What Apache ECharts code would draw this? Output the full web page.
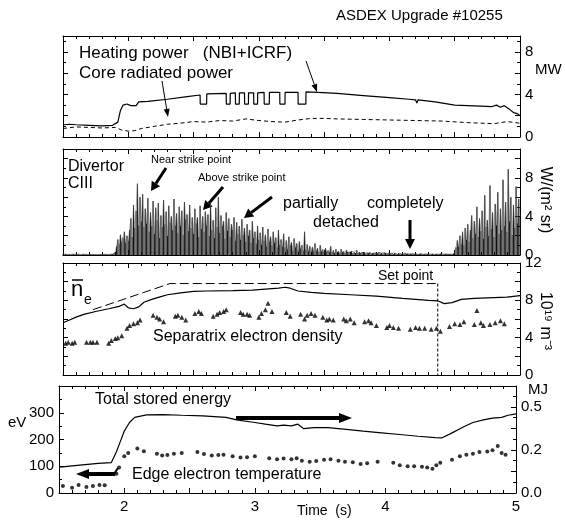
<!DOCTYPE html>
<html>
<head>
<meta charset="utf-8">
<title>ASDEX Upgrade #10255</title>
<script src="https://cdn.jsdelivr.net/npm/echarts@6/dist/echarts.min.js"></script>
<style>
  html, body { margin: 0; padding: 0; background: #fff; }
  #chart { width: 565px; height: 522px; }
</style>
</head>
<body>
<div id="chart"></div>
<script>
// ---- time axis (s) ----
const timeMin = 1.5;
const timeMax = 5;
const timeTickLabels = [2, 3, 4, 5];

// ---- panel 1: heating power / core radiated power (MW) ----
const heatingTime = [1.50, 1.55, 1.60, 1.70, 1.80, 1.88, 1.92, 1.94, 1.96, 1.99, 2.02, 2.06, 2.08, 2.15, 2.30, 2.45,
  2.55, 2.551, 2.60, 2.601, 2.75, 2.751, 2.78, 2.781, 2.82, 2.821, 2.85, 2.851, 2.89, 2.891, 2.92, 2.921,
  2.96, 2.961, 2.99, 2.991, 3.04, 3.041, 3.08, 3.081, 3.16, 3.161, 3.20, 3.201, 3.30, 3.301, 3.36, 3.361,
  3.45, 3.60, 3.80, 4.00, 4.15, 4.20, 4.21, 4.22, 4.35, 4.50, 4.60, 4.70, 4.78, 4.82, 4.85, 4.88, 4.92, 4.95, 4.98, 5.00];
const heatingMW = [1.15, 1.2, 1.15, 1.1, 1.05, 1.1, 1.4, 2.5, 3.0, 3.1, 2.95, 2.95, 3.3, 3.35, 3.55, 3.8,
  3.95, 3.1, 3.1, 4.05, 4.1, 3.1, 3.1, 4.1, 4.15, 3.1, 3.1, 4.15, 4.15, 3.1, 3.1, 4.15,
  4.15, 3.1, 3.1, 4.15, 4.2, 3.1, 3.1, 4.2, 4.2, 3.1, 3.1, 4.2, 4.2, 3.1, 3.1, 4.25,
  4.2, 4.1, 3.9, 3.7, 3.55, 3.5, 3.2, 3.5, 3.3, 3.0, 2.95, 2.9, 2.85, 3.0, 2.8, 2.95, 2.6, 2.3, 2.2, 2.0];
const radiatedTime = [1.50, 1.60, 1.70, 1.80, 1.90, 1.95, 2.00, 2.05, 2.10, 2.20, 2.30, 2.40, 2.50, 2.60, 2.70, 2.80,
  2.90, 3.00, 3.10, 3.20, 3.30, 3.40, 3.50, 3.60, 3.80, 4.00, 4.20, 4.40, 4.60, 4.70, 4.80, 4.90, 5.00];
const radiatedMW = [0.8, 0.95, 0.9, 0.85, 0.9, 0.65, 0.55, 0.6, 0.8, 1.0, 1.2, 1.3, 1.45, 1.4, 1.55, 1.5,
  1.7, 1.55, 1.45, 1.4, 1.6, 1.75, 1.75, 1.7, 1.65, 1.6, 1.55, 1.5, 1.35, 1.3, 1.25, 1.45, 1.3];
const mwTicks = [0, 4, 8];

// ---- panel 2: divertor CIII, one sample every 10 ms from 1.50 s ----
const ciiiStart = 1.5;
const ciiiStep = 0.01;
const ciiiValues = [
  0.1, 0.05, 0.1, 0.08, 0.05, 0.1, 0.06, 0.08, 0.1, 0.05,
  0.08, 0.05, 0.1, 0.06, 0.05, 0.08, 0.1, 0.05, 0.07, 0.06,
  0.05, 0.08, 0.06, 0.1, 0.05, 0.07, 0.06, 0.08, 0.05, 0.1,
  0.06, 0.05, 0.08, 0.1, 0.06, 0.05, 0.08, 0.1, 0.1, 0.2,
  0.3, 0.9, 1.6, 1.2, 2.1, 1.4, 1.8, 2.4, 1.3, 2.0,
  1.5, 2.6, 3.8, 1.9, 5.2, 2.8, 4.6, 7.4, 3.1, 6.0,
  3.5, 6.3, 2.9, 4.8, 3.3, 5.9, 2.4, 4.4, 3.0, 5.6,
  2.2, 4.9, 3.6, 5.4, 1.8, 4.1, 2.9, 5.7, 3.2, 4.5,
  2.0, 5.1, 3.4, 4.0, 2.6, 5.8, 3.1, 4.3, 2.3, 5.0,
  3.0, 4.6, 2.1, 5.5, 3.7, 4.2, 2.5, 5.2, 2.8, 3.9,
  2.2, 4.8, 3.3, 3.9, 1.9, 5.1, 2.7, 4.0, 2.4, 4.5,
  3.1, 4.2, 2.0, 5.4, 2.6, 3.6, 1.8, 4.9, 2.9, 6.0,
  2.3, 4.1, 3.0, 3.5, 1.7, 4.4, 2.5, 3.8, 1.9, 3.2,
  2.6, 3.9, 1.5, 3.4, 2.2, 3.0, 1.6, 3.7, 2.1, 2.8,
  1.4, 3.2, 2.0, 2.6, 1.3, 3.5, 1.8, 2.4, 1.2, 3.0,
  1.6, 2.3, 1.1, 2.9, 1.5, 2.1, 0.9, 2.7, 1.4, 1.9,
  1.0, 2.4, 1.3, 1.8, 0.8, 2.6, 1.1, 1.6, 0.9, 2.2,
  0.8, 1.5, 0.6, 1.9, 1.0, 1.3, 0.5, 1.7, 0.8, 1.2,
  0.6, 1.4, 0.7, 1.0, 0.5, 2.4, 0.6, 1.1, 0.4, 0.9,
  0.5, 0.8, 0.4, 1.2, 0.5, 0.7, 0.3, 1.0, 0.4, 0.6,
  0.3, 0.7, 0.4, 0.5, 0.3, 0.9, 0.3, 0.5, 0.2, 0.6,
  0.3, 0.4, 0.2, 0.6, 0.3, 0.4, 0.2, 0.5, 0.3, 0.3,
  0.2, 0.4, 0.2, 0.3, 0.2, 0.5, 0.2, 0.3, 0.2, 0.3,
  0.2, 0.3, 0.15, 0.25, 0.2, 0.3, 0.15, 0.2, 0.2, 0.25,
  0.15, 0.2, 0.3, 0.15, 0.2, 0.15, 0.25, 0.2, 0.15, 0.2,
  0.2, 0.15, 0.2, 0.1, 0.2, 0.15, 0.1, 0.2, 0.15, 0.1,
  0.15, 0.1, 0.2, 0.1, 0.15, 0.1, 0.12, 0.1, 0.15, 0.1,
  0.1, 0.12, 0.08, 0.1, 0.15, 0.1, 0.08, 0.1, 0.12, 0.1,
  0.1, 0.08, 0.1, 0.12, 0.08, 0.1, 0.1, 0.08, 0.1, 0.12,
  0.1, 0.08, 0.1, 0.1, 0.12, 0.1, 0.08, 0.1, 0.1, 0.12,
  0.2, 0.8, 1.5, 0.9, 2.0, 1.2, 2.4, 1.0, 2.8, 1.6,
  3.2, 1.4, 2.6, 4.1, 1.8, 3.5, 2.2, 5.0, 1.9, 3.8,
  2.5, 4.6, 1.7, 6.2, 2.9, 3.6, 2.0, 7.2, 2.7, 4.4,
  1.9, 5.3, 3.1, 6.5, 2.2, 4.8, 2.6, 7.8, 3.0, 5.5,
  2.4, 8.9, 3.5, 6.0, 2.1, 5.2, 2.8, 7.1, 3.3, 5.8,
  4.0
];
const ciiiTicks = [0, 4, 8];

// ---- panel 3: line averaged density, set point, separatrix density (1e19 m^-3) ----
const densityTime = [1.50, 1.55, 1.60, 1.66, 1.75, 1.85, 1.93, 1.97, 2.00, 2.04, 2.08, 2.12, 2.18, 2.25, 2.30, 2.40,
  2.50, 2.60, 2.80, 2.95, 3.05, 3.15, 3.20, 3.24, 3.30, 3.40, 3.50, 3.70, 3.90, 4.10, 4.30, 4.37,
  4.42, 4.48, 4.55, 4.65, 4.80, 4.90, 5.00];
const densityValues = [5.6, 5.9, 6.2, 6.5, 6.8, 7.1, 7.35, 7.6, 7.2, 7.1, 7.3, 7.8, 8.1, 8.4, 8.6, 8.8,
  8.95, 9.0, 9.05, 9.1, 9.2, 9.3, 9.4, 9.3, 9.0, 8.85, 8.75, 8.6, 8.45, 8.2, 8.0, 7.95,
  7.65, 7.75, 8.1, 8.2, 8.3, 8.35, 8.5];
const setpointTime = [1.73, 2.32, 4.37];
const setpointValues = [7.0, 9.8, 9.8];
const setpointDropTime = [4.37, 4.37];
const setpointDropValues = [9.8, 0];
const sepTime = [1.52, 1.54, 1.57, 1.59, 1.68, 1.71, 1.73, 1.76, 1.85, 1.87, 1.90, 1.92, 1.95,
  1.99, 2.01, 2.04, 2.07, 2.09, 2.19, 2.22, 2.24, 2.27, 2.36, 2.38, 2.41, 2.44, 2.51, 2.54, 2.56,
  2.65, 2.68, 2.70, 2.73, 2.75, 2.86, 2.88, 2.91, 2.93, 3.00, 3.02, 3.05, 3.07, 3.10, 3.21, 3.24,
  3.32, 3.35, 3.37, 3.40, 3.43, 3.49, 3.52, 3.54, 3.57, 3.65, 3.67, 3.70, 3.73, 3.81, 3.84, 3.86, 3.90,
  3.98, 4.00, 4.03, 4.07, 4.16, 4.20, 4.23, 4.27, 4.32, 4.36, 4.39, 4.46, 4.50, 4.54, 4.57,
  4.65, 4.67, 4.70, 4.72, 4.77, 4.81, 4.85, 4.88];
const sepDensity = [3.4, 3.5, 3.4, 3.5, 3.5, 3.5, 3.5, 3.5, 3.4, 3.7, 3.9, 4.0, 4.2,
  5.0, 5.3, 5.5, 5.6, 5.9, 6.4, 6.2, 6.0, 5.7, 6.3, 6.4, 6.2, 5.9, 6.6, 6.8, 6.6,
  6.3, 6.5, 6.7, 6.8, 7.0, 6.7, 6.5, 6.5, 6.4, 6.2, 6.6, 7.0, 7.7, 6.8, 6.7, 6.3,
  6.5, 6.0, 6.4, 6.6, 6.4, 6.2, 5.9, 6.0, 5.9, 6.0, 5.8, 6.0, 5.6, 5.7, 5.8, 5.6, 5.3,
  5.1, 5.3, 5.1, 5.0, 4.9, 5.1, 5.0, 5.0, 4.9, 5.0, 4.7, 5.2, 5.5, 5.4, 5.7,
  5.4, 6.9, 5.6, 5.3, 5.4, 5.6, 5.8, 5.5];
const densityTicks = [0, 4, 8, 12];

// ---- panel 4: total stored energy (MJ), edge electron temperature (eV) ----
const energyTime = [1.51, 1.60, 1.70, 1.80, 1.90, 1.94, 1.97, 2.00, 2.04, 2.08, 2.17, 2.30, 2.44, 2.60, 2.78, 2.86,
  3.00, 3.08, 3.13, 3.17, 3.22, 3.28, 3.33, 3.375, 3.45, 3.56, 3.70, 3.83, 3.97, 4.11, 4.25, 4.38, 4.43,
  4.50, 4.60, 4.67, 4.75, 4.82, 4.89, 4.94, 5.00];
const energyMJ = [0.15, 0.158, 0.165, 0.172, 0.176, 0.24, 0.30, 0.36, 0.41, 0.44, 0.454, 0.456, 0.452, 0.448, 0.44, 0.425,
  0.41, 0.40, 0.395, 0.39, 0.395, 0.39, 0.40, 0.374, 0.38, 0.38, 0.37, 0.36, 0.35, 0.34, 0.33, 0.322, 0.32,
  0.345, 0.385, 0.41, 0.425, 0.435, 0.44, 0.452, 0.46];
const teTime = [1.53, 1.60, 1.65, 1.71, 1.76, 1.81, 1.85, 1.94, 1.96, 2.00, 2.03, 2.10, 2.15,
  2.25, 2.29, 2.33, 2.38, 2.44, 2.56, 2.61, 2.67, 2.72, 2.76, 2.83, 2.89, 2.94, 3.00,
  3.11, 3.17, 3.22, 3.28, 3.32, 3.36, 3.42, 3.47, 3.53, 3.58, 3.64, 3.69, 3.75, 3.81, 3.86, 3.94,
  4.06, 4.11, 4.17, 4.22, 4.28, 4.32, 4.36, 4.39, 4.42, 4.51, 4.57, 4.62, 4.67, 4.72, 4.78, 4.82,
  4.86, 4.89, 4.92];
const teEV = [26, 20, 30, 22, 26, 30, 29, 72, 95, 137, 150, 166, 156,
  147, 140, 142, 147, 150, 153, 146, 140, 142, 143, 137, 133, 134, 137,
  130, 126, 129, 126, 130, 121, 117, 120, 124, 126, 121, 117, 115, 108, 111, 117,
  113, 104, 100, 100, 98, 95, 91, 104, 113, 124, 137, 143, 147, 153, 155, 160,
  176, 150, 143];
const evTicks = [0, 100, 200, 300];
const mjTickValues = [0, 0.25, 0.5];
const mjTickLabels = ['0.0', '0.2', '0.5'];

const FONT = 'Arial, "Liberation Sans", Helvetica, sans-serif';
const pairs = (xs, ys) => xs.map((x, i) => [x, ys[i]]);

const grids = [
  { left: 63, right: 45, top: 36, height: 101 },
  { left: 63, right: 45, top: 149, height: 106 },
  { left: 63, right: 45, top: 263, height: 112 },
  { left: 59, right: 49, top: 386, height: 107 }
];

function xAxisFor(gridIndex, position, showLabels) {
  return {
    type: 'value', gridIndex, position, min: timeMin, max: timeMax, interval: 0.5,
    axisLine: { show: true, onZero: false, lineStyle: { color: '#000', width: 1 } },
    axisTick: { show: true, inside: true, length: 5, lineStyle: { color: '#000' } },
    minorTick: { show: true, splitNumber: 5, length: 3, lineStyle: { color: '#000' } },
    splitLine: { show: false },
    axisLabel: {
      show: showLabels, color: '#000', fontFamily: FONT, fontSize: 15, margin: 6,
      formatter: v => timeTickLabels.includes(v) ? String(v) : ''
    }
  };
}

function yAxisFor(gridIndex, position, max, interval, minorSplit, labelFn) {
  return {
    type: 'value', gridIndex, position, min: 0, max, interval,
    axisLine: { show: true, onZero: false, lineStyle: { color: '#000', width: 1 } },
    axisTick: { show: true, inside: true, length: 5, lineStyle: { color: '#000' } },
    minorTick: { show: true, splitNumber: minorSplit, length: 3, lineStyle: { color: '#000' } },
    splitLine: { show: false },
    axisLabel: {
      show: !!labelFn, color: '#000', fontFamily: FONT, fontSize: 15, margin: 5,
      showMinLabel: true, showMaxLabel: true,
      formatter: labelFn || (() => '')
    }
  };
}

const pick = list => v => list.includes(v) ? String(v) : '';

const xAxes = [];
grids.forEach((g, i) => {
  xAxes.push(xAxisFor(i, 'bottom', i === 3));
  xAxes.push(xAxisFor(i, 'top', false));
});

const yAxes = [
  yAxisFor(0, 'left', 9.5, 2, 2, null),
  yAxisFor(0, 'right', 9.5, 2, 2, pick(mwTicks)),
  yAxisFor(1, 'left', 11, 2, 2, null),
  yAxisFor(1, 'right', 11, 2, 2, pick(ciiiTicks)),
  yAxisFor(2, 'left', 12, 2, 2, null),
  yAxisFor(2, 'right', 12, 2, 2, pick(densityTicks)),
  yAxisFor(3, 'left', 400, 100, 2, pick(evTicks)),
  yAxisFor(3, 'right', 0.622, 0.125, 2, v => {
    const k = mjTickValues.indexOf(v);
    return k >= 0 ? mjTickLabels[k] : '';
  })
];

const lineBase = { type: 'line', symbol: 'none', animation: false, silent: true };

const series = [
  Object.assign({}, lineBase, { xAxisIndex: 0, yAxisIndex: 1, data: pairs(heatingTime, heatingMW),
    lineStyle: { color: '#000', width: 1.2 } }),
  Object.assign({}, lineBase, { xAxisIndex: 0, yAxisIndex: 1, data: pairs(radiatedTime, radiatedMW),
    lineStyle: { color: '#000', width: 1, type: [4, 3] } }),
  // CIII spikes drawn as hair-thin bars
  { type: 'bar', xAxisIndex: 2, yAxisIndex: 3, barWidth: 1, animation: false, silent: true,
    data: ciiiValues.map((v, i) => [ciiiStart + i * ciiiStep, v]),
    itemStyle: { color: '#111' } },
  Object.assign({}, lineBase, { xAxisIndex: 2, yAxisIndex: 3,
    data: ciiiValues.map((v, i) => [ciiiStart + i * ciiiStep, v]),
    lineStyle: { color: '#555', width: 0.5 } }),
  Object.assign({}, lineBase, { xAxisIndex: 4, yAxisIndex: 5, data: pairs(densityTime, densityValues),
    lineStyle: { color: '#000', width: 1.2 } }),
  Object.assign({}, lineBase, { xAxisIndex: 4, yAxisIndex: 5, data: pairs(setpointTime, setpointValues),
    lineStyle: { color: '#000', width: 1, type: [9, 4] } }),
  Object.assign({}, lineBase, { xAxisIndex: 4, yAxisIndex: 5, data: pairs(setpointDropTime, setpointDropValues),
    lineStyle: { color: '#000', width: 1, type: [3, 2] } }),
  { type: 'scatter', xAxisIndex: 4, yAxisIndex: 5, data: pairs(sepTime, sepDensity), symbol: 'triangle',
    symbolSize: 5, itemStyle: { color: '#000' }, animation: false, silent: true },
  Object.assign({}, lineBase, { xAxisIndex: 6, yAxisIndex: 7, data: pairs(energyTime, energyMJ),
    lineStyle: { color: '#000', width: 1.2 } }),
  { type: 'scatter', xAxisIndex: 6, yAxisIndex: 6, data: pairs(teTime, teEV), symbol: 'circle',
    symbolSize: 4, itemStyle: { color: '#000' }, animation: false, silent: true }
];

// annotation helpers
function txt(text, x, y, size, extra) {
  return {
    type: 'text', x, y, silent: true,
    style: Object.assign({ text, fill: '#000', font: size + 'px ' + FONT,
      textAlign: 'left', textVerticalAlign: 'middle' }, extra || {})
  };
}
function arrow(x1, y1, x2, y2, w, hl, hw) {
  const a = Math.atan2(y2 - y1, x2 - x1);
  const c = Math.cos(a), s = Math.sin(a);
  const bx = x2 - hl * c, by = y2 - hl * s;
  return [
    { type: 'line', silent: true, shape: { x1, y1, x2: bx, y2: by },
      style: { stroke: '#000', lineWidth: w } },
    { type: 'polygon', silent: true,
      shape: { points: [[x2, y2], [bx + hw * s, by - hw * c], [bx - hw * s, by + hw * c]] },
      style: { fill: '#000' } }
  ];
}

const unitCIII = txt('W/(m² sr)', 545, 200, 16, { textAlign: 'center' });
unitCIII.rotation = -Math.PI / 2;
const unitDensity = txt('10¹⁹ m⁻³', 545, 321, 16, { textAlign: 'center' });
unitDensity.rotation = -Math.PI / 2;

const graphic = [
  txt('ASDEX Upgrade #10255', 336, 16, 15),
  txt('Heating power   (NBI+ICRF)', 79, 53, 17),
  txt('Core radiated power', 79, 73, 17),
  txt('MW', 535, 70, 15),
  txt('Divertor', 68, 167, 16),
  txt('CIII', 68, 184, 16),
  txt('Near strike point', 151, 160, 11),
  txt('Above strike point', 198, 178, 11),
  txt('partially', 283, 204, 16),
  txt('detached', 313, 223, 16),
  txt('completely', 367, 204, 16),
  unitCIII,
  txt('n', 71, 290, 22),
  { type: 'line', silent: true, shape: { x1: 72, y1: 280, x2: 83, y2: 280 }, style: { stroke: '#000', lineWidth: 1.5 } },
  txt('e', 84, 300, 14),
  txt('Set point', 378, 276, 14),
  txt('Separatrix electron density', 153, 337, 16),
  unitDensity,
  txt('Total stored energy', 95, 400, 16),
  txt('Edge electron temperature', 132, 475, 16),
  txt('eV', 8, 423, 15),
  txt('MJ', 528, 390, 15),
  txt('Time  (s)', 297, 511, 14),
  // short hook from the temperature arrow up to the first heated-phase point
  { type: 'line', silent: true, shape: { x1: 114, y1: 474, x2: 118, y2: 468 }, style: { stroke: '#000', lineWidth: 2 } }
];

[].concat(
  arrow(306, 61, 317, 92, 1, 8, 3),
  arrow(162, 81, 168, 117, 1, 8, 3),
  arrow(166, 168, 151, 191, 3, 9, 5),
  arrow(223, 187, 203, 210, 3, 9, 5),
  arrow(272, 197, 244, 218, 3, 9, 5),
  arrow(410, 220, 410, 249, 3, 10, 5),
  arrow(236, 418, 352, 418, 4, 13, 5),
  arrow(115, 474, 76, 474, 4, 13, 5)
).forEach(g => graphic.push(g));

const chart = echarts.init(document.getElementById('chart'), null, { renderer: 'canvas' });
chart.setOption({
  animation: false,
  backgroundColor: '#fff',
  grid: grids,
  xAxis: xAxes,
  yAxis: yAxes,
  series,
  graphic
});
</script>
</body>
</html>
